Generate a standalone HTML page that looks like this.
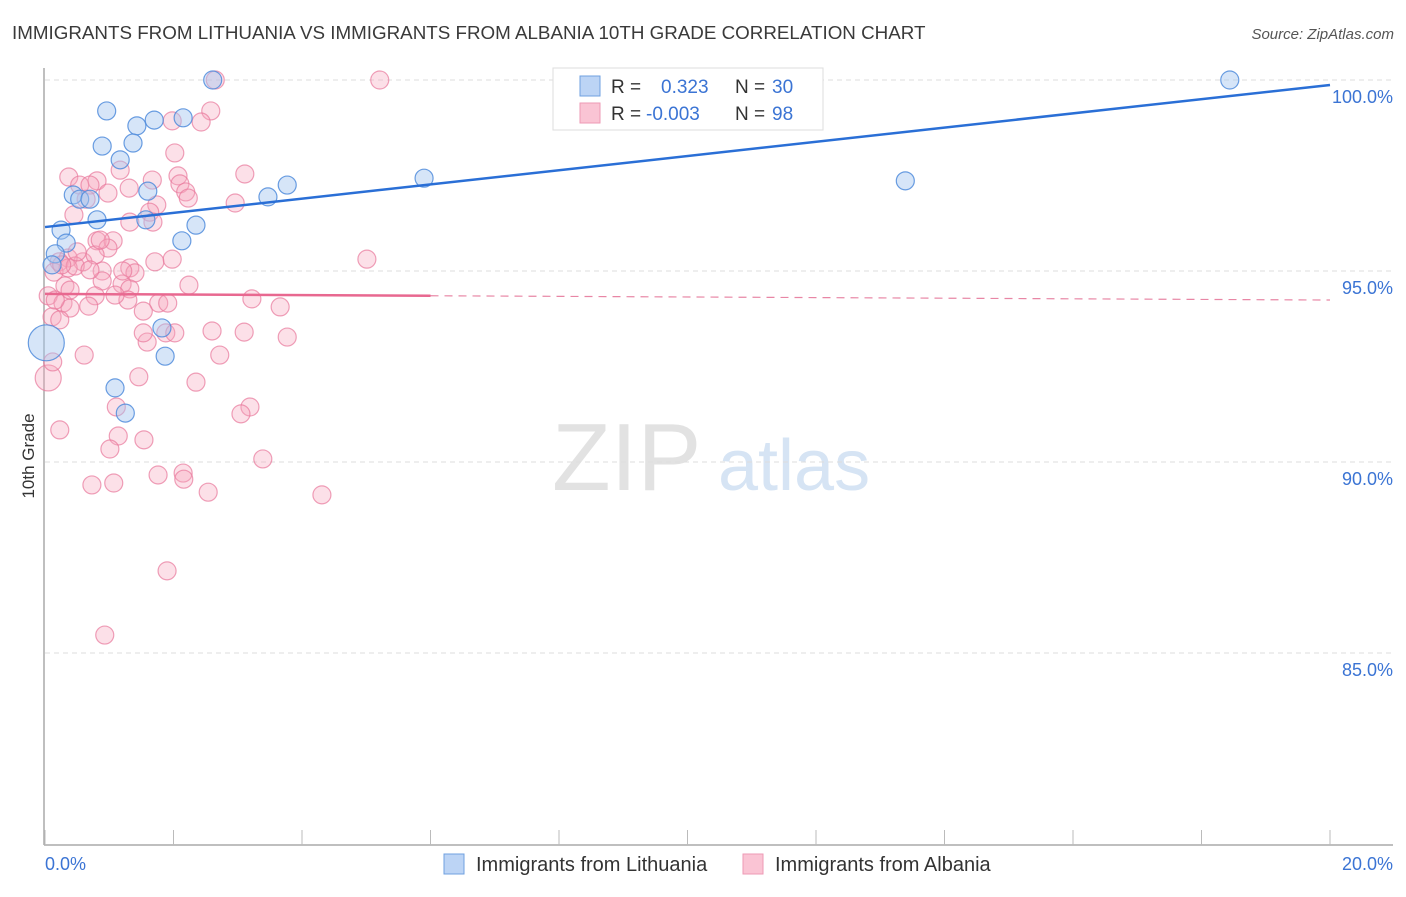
<!DOCTYPE html>
<html><head><meta charset="utf-8"><style>
body{margin:0;background:#fff;font-family:"Liberation Sans",sans-serif;}
svg text{font-family:"Liberation Sans",sans-serif;}
</style></head><body>
<svg id="chart" width="1406" height="892" viewBox="0 0 1406 892" xmlns="http://www.w3.org/2000/svg">
<text x="12" y="39" font-size="18.8" fill="#3a3a3a">IMMIGRANTS FROM LITHUANIA VS IMMIGRANTS FROM ALBANIA 10TH GRADE CORRELATION CHART</text>
<text x="1394" y="39" font-size="15" fill="#555" text-anchor="end" font-style="italic">Source: ZipAtlas.com</text>
<g>
<text x="552" y="490" font-size="96" fill="#e2e2e2" font-family="Liberation Serif, serif">ZIP</text>
<text x="718" y="490" font-size="72" fill="#d6e4f4">atlas</text>
</g>
<g id="grid"></g>
<g id="axes"></g>
<g id="points"></g>
<g id="trends"></g>
<text transform="translate(34,456) rotate(-90)" font-size="17" fill="#333" text-anchor="middle">10th Grade</text>
<g>
<rect x="553" y="68" width="270" height="62" fill="#fff" stroke="#ddd"/>
<rect x="580" y="76" width="20" height="20" fill="#bcd4f5" stroke="#6fa0e0"/>
<rect x="580" y="103" width="20" height="20" fill="#fac4d4" stroke="#ee9ab5"/>
<text x="611" y="93" font-size="19" fill="#333">R = </text>
<text x="661" y="93" font-size="19" fill="#3b74d4">0.323</text>
<text x="735" y="93" font-size="19" fill="#333">N = </text>
<text x="772" y="93" font-size="19" fill="#3b74d4">30</text>
<text x="611" y="120" font-size="19" fill="#333">R = </text>
<text x="646" y="120" font-size="19" fill="#3b74d4">-0.003</text>
<text x="735" y="120" font-size="19" fill="#333">N = </text>
<text x="772" y="120" font-size="19" fill="#3b74d4">98</text>
</g>
<g>
<rect x="444" y="854" width="20" height="20" fill="#bcd4f5" stroke="#6fa0e0"/>
<text x="476" y="871" font-size="20" fill="#333">Immigrants from Lithuania</text>
<rect x="743" y="854" width="20" height="20" fill="#fac4d4" stroke="#ee9ab5"/>
<text x="775" y="871" font-size="20" fill="#333">Immigrants from Albania</text>
</g>
</svg>
<script>
const yTicks=[100,95,90,85];
const yTickLabels=["100.0%","95.0%","90.0%","85.0%"];
const xTicks=[0,2,4,6,8,10,12,14,16,18,20];
const xEndLabels=["0.0%","20.0%"];
const lithX=[2.61,0.96,1.70,2.15,1.43,0.89,1.37,1.17,1.60,0.44,0.54,0.70,3.77,3.47,5.90,13.39,18.44,0.81,1.57,0.25,0.33,2.13,2.35,0.16,0.02,1.82,1.87,1.09,1.25,0.11];
const lithY=[100,99.19,98.95,99.01,98.80,98.27,98.35,97.91,97.09,96.99,96.88,96.88,97.25,96.94,97.43,97.36,100,96.34,96.34,96.07,95.73,95.79,96.20,95.45,93.12,93.51,92.77,91.94,91.28,95.16];
const lithR=[9,9,9,9,9,9,9,9,9,9,9,9,9,9,9,9,9,9,9,9,9,9,9,9,18,9,9,9,9,9];
const albX=[2.65,5.21,2.58,1.98,2.43,2.02,3.11,0.37,0.81,2.07,0.54,0.70,1.31,2.10,2.19,2.23,0.98,2.96,1.74,1.63,0.45,0.64,1.68,1.32,0.81,1.06,0.98,0.59,0.36,0.22,1.71,1.32,1.40,1.20,0.89,1.98,5.01,0.14,0.36,0.89,1.32,2.24,0.31,0.05,0.78,0.28,1.77,1.91,3.22,3.66,0.11,0.68,0.39,1.53,2.60,3.10,3.77,1.59,1.88,0.61,2.72,0.05,0.12,1.46,2.35,3.19,1.11,3.05,0.23,1.14,1.54,1.01,3.39,0.73,1.07,1.76,2.15,2.16,2.54,4.31,1.90,0.93,2.02,1.53,1.29,0.23,0.47,1.21,0.78,1.67,1.17,0.26,0.70,0.39,1.09,0.16,0.86,0.50];
const albY=[100,100,99.19,98.93,98.90,98.09,97.54,97.46,97.36,97.49,97.25,97.25,97.17,97.28,97.07,96.91,97.04,96.78,96.73,96.54,96.47,96.88,96.28,96.28,95.79,95.79,95.60,95.24,95.34,95.24,95.24,95.08,94.95,94.66,95.00,95.31,95.31,94.97,95.08,94.74,94.53,94.63,94.61,94.35,94.35,94.16,94.16,94.16,94.27,94.06,93.80,94.08,94.03,93.95,93.43,93.40,93.27,93.14,93.38,92.80,92.80,92.20,92.62,92.23,92.09,91.44,91.44,91.26,90.84,90.68,90.58,90.34,90.08,89.40,89.45,89.66,89.71,89.55,89.21,89.14,87.15,85.47,93.38,93.38,94.24,93.72,95.13,95.00,95.42,97.38,97.64,95.16,95.03,94.50,94.37,94.24,95.81,95.50];
const lithTrend=[96.15,99.87];
const albTrend=[94.40,94.24];
const NS="http://www.w3.org/2000/svg";
const X=v=>45+v*64.25, Y=v=>80+(100-v)*38.2;
function mk(tag,attrs,parent){const e=document.createElementNS(NS,tag);for(const k in attrs)e.setAttribute(k,attrs[k]);document.getElementById(parent).appendChild(e);return e;}
yTicks.forEach((t,i)=>{
 const l=mk('line',{x1:45,x2:1393,y1:Y(t),y2:Y(t),stroke:'#ddd','stroke-dasharray':'5,4'},'grid');
 
 
 const tx=mk('text',{x:1393,y:Y(t)+23,'font-size':18,fill:'#3b74d4','text-anchor':'end'},'grid');
 tx.textContent=yTickLabels[i];
 
 
});
const ax=mk('line',{x1:44,x2:44,y1:68,y2:845,stroke:'#aaa','stroke-width':1.5},'axes');


const bx=mk('line',{x1:44,x2:1393,y1:845,y2:845,stroke:'#aaa','stroke-width':1.5},'axes');


xTicks.forEach(t=>{
 const l=mk('line',{x1:X(t),x2:X(t),y1:830,y2:845,stroke:'#bbb'},'axes');
 
 
});
const xl0=mk('text',{x:45,y:870,'font-size':18,fill:'#3b74d4'},'axes');xl0.textContent=xEndLabels[0];


const xl1=mk('text',{x:1393,y:870,'font-size':18,fill:'#3b74d4','text-anchor':'end'},'axes');xl1.textContent=xEndLabels[1];


albX.forEach((v,i)=>{
 const c=mk('circle',{cx:X(v),cy:Y(albY[i]),r:(i===61?13:9),fill:'rgba(246,165,190,0.35)',stroke:'rgba(232,120,155,0.7)','stroke-width':1.2},'points');
 
 
});
lithX.forEach((v,i)=>{
 const c=mk('circle',{cx:X(v),cy:Y(lithY[i]),r:lithR[i],fill:'rgba(165,198,240,0.45)',stroke:'rgba(80,140,220,0.85)','stroke-width':1.2},'points');
 
 
});
const bl=mk('line',{x1:X(0),y1:Y(lithTrend[0]),x2:X(20),y2:Y(lithTrend[1]),stroke:'#2a6fd6','stroke-width':2.5},'trends');


const split=6;
const am=albTrend[0]+(albTrend[1]-albTrend[0])*split/20;
const pl=mk('line',{x1:X(0),y1:Y(albTrend[0]),x2:X(split),y2:Y(am),stroke:'#e86890','stroke-width':2.5},'trends');


const pd=mk('line',{x1:X(split),y1:Y(am),x2:X(20),y2:Y(albTrend[1]),stroke:'#e886a5','stroke-width':1.2,'stroke-dasharray':'8,6'},'trends');


</script>
</body></html>
